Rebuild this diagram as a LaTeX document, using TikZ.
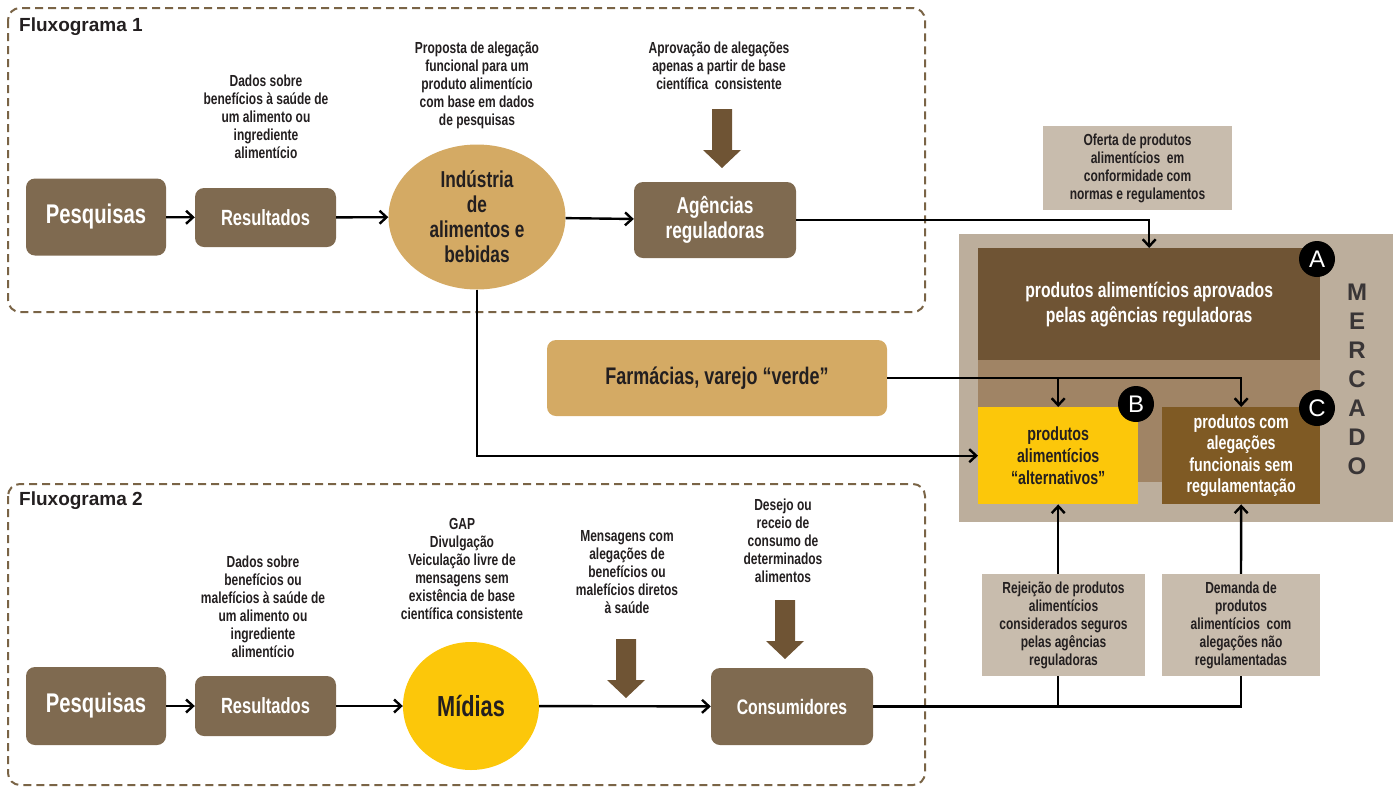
\documentclass[tikz,border=0pt]{standalone}
\usepackage{fontspec}
\setmainfont[FakeStretch=0.75]{Liberation Sans}
\newfontfamily\largafont{Liberation Sans}
\usepackage{tikz}
\usetikzlibrary{arrows.meta}
\usetikzlibrary{shapes.geometric}
\usetikzlibrary{calc}

\definecolor{marrom caixa}{RGB}{127,106,80}
\definecolor{marrom escuro}{RGB}{111,84,52}
\definecolor{marrom c}{RGB}{127,90,36}
\definecolor{bege}{RGB}{212,170,100}
\definecolor{amarelo}{RGB}{252,199,10}
\definecolor{claro}{RGB}{200,188,173}
\definecolor{fundo merc}{RGB}{188,174,156}
\definecolor{meio merc}{RGB}{160,132,101}
\definecolor{tracejado}{RGB}{122,100,70}
\definecolor{escuro}{RGB}{35,31,32}

\tikzset{node style box/.style={rectangle, rounded corners=9pt, fill=marrom caixa, text=white, align=center, inner sep=0pt}}
\tikzset{node style txt/.style={align=center, text=escuro, inner sep=0pt, font=\bfseries\fontsize{16}{18}\selectfont}}
\tikzset{node style ret/.style={rectangle, align=center, inner sep=0pt, text=escuro, font=\bfseries\fontsize{16}{18}\selectfont}}
\tikzset{node style letra/.style={circle, fill=black, text=white, minimum size=36pt, inner sep=0pt, font=\largafont\fontsize{24}{24}\selectfont}}
\tikzset{borda/.style={draw=tracejado, line width=2pt, dash pattern=on 8pt off 5pt, rounded corners=12pt}}
\tikzset{seta/.style={draw=black, line width=2.4pt, -{Straight Barb[length=7pt,width=13pt]}}}
\tikzset{linha/.style={draw=black, line width=2.4pt}}

% seta grossa marrom, #1 = ponta
\newcommand{\setagrossa}[1]{\fill[marrom escuro] (#1) ++(-10,-59) -- ++(20,0) -- ++(0,41) -- ++(9,0) -- ++(-19,18) -- ++(-19,-18) -- ++(9,0) -- cycle;}

\begin{document}
\begin{tikzpicture}[x=1pt,y=-1pt]
   \useasboundingbox (0,0) rectangle (1393,788);

   % [[[ Fluxograma 1
   \draw[borda] (8,8) rectangle (925,312);
   \node[anchor=west, inner sep=0pt, text=escuro, font=\largafont\bfseries\fontsize{19}{22}\selectfont] (fx1) at (19,27) {Fluxograma 1};

   \node[node style box, minimum width=140pt, minimum height=77pt, font=\bfseries\fontsize{27}{30}\selectfont] (pesq1) at (96,217) {Pesquisas};
   \node[node style box, minimum width=141pt, minimum height=59pt, font=\bfseries\fontsize{22}{24}\selectfont] (res1) at (265.5,217.5) {Resultados};
   \node[node style txt] (dados1) at (266,117) {Dados sobre\\benefícios à saúde de\\um alimento ou\\ingrediente\\alimentício};

   \node[ellipse, fill=bege, minimum width=177pt, minimum height=145pt, inner sep=0pt, align=center, text=escuro, font=\bfseries\fontsize{23}{25}\selectfont] (ind) at (477,217) {Indústria\\de\\alimentos e\\bebidas};
   \node[node style txt] (prop) at (477,85) {Proposta de alegação\\funcional para um\\produto alimentício\\com base em dados\\de pesquisas};

   \node[node style box, minimum width=162pt, minimum height=76pt, font=\bfseries\fontsize{23}{25}\selectfont] (ag) at (715,220) {Agências\\reguladoras};
   \node[node style txt] (aprov) at (719,66) {Aprovação de alegações\\apenas a partir de base\\científica\ \ consistente};
   \coordinate (sg1) at (722,168);
   \setagrossa{sg1}

   \draw[seta] (pesq1) -- (res1);
   \draw[seta] (res1) -- (ind);
   \draw[seta] (ind) -- (ag);
   % ]]]

   % [[[ Mercado
   \node[node style ret, fill=claro, minimum width=189pt, minimum height=84pt] (oferta) at (1137.5,168) {Oferta de produtos\\alimentícios\ \ em\\conformidade com\\normas e regulamentos};
   \node[rectangle, fill=fundo merc, minimum width=434pt, minimum height=288pt, anchor=north west] (merc) at (959,234) {};
   \node[rectangle, fill=meio merc, minimum width=342pt, minimum height=122pt, anchor=north west] (meio) at (978,360) {};
   \node[rectangle, fill=marrom escuro, minimum width=342pt, minimum height=112pt, anchor=north west, align=center, text=white, font=\bfseries\fontsize{21}{25}\selectfont] (A) at (978,248) {produtos alimentícios aprovados\\pelas agências reguladoras};
   \node[rectangle, fill=amarelo, minimum width=160pt, minimum height=97pt, anchor=north west, align=center, text=escuro, font=\bfseries\fontsize{19}{22}\selectfont] (B) at (978,407) {produtos\\alimentícios\\“alternativos”};
   \node[rectangle, fill=marrom c, minimum width=158pt, minimum height=97pt, anchor=north west, align=center, text=white, font=\bfseries\fontsize{19}{21.5}\selectfont] (C) at (1162,407) {produtos com\\alegações\\funcionais sem\\regulamentação};
   \node[node style letra] (la) at (1317,259) {A};
   \node[node style letra] (lb) at (1136,404) {B};
   \node[node style letra] (lc) at (1317,408) {C};
   \node[align=center, inner sep=0pt, text=escuro!90, font=\largafont\bfseries\fontsize{24}{29}\selectfont] (mtxt) at (1357,379) {M\\E\\R\\C\\A\\D\\O};

   \node[node style box, fill=bege, text=escuro, minimum width=340pt, minimum height=76pt, font=\bfseries\fontsize{24}{26}\selectfont] (farm) at (717,378) {Farmácias, varejo “verde”};

   \draw[seta] (ag.east) -| (A.north);
   \draw[seta] (ind.south) |- (B.west);
   \draw[seta] (farm.east) -| (C.north);
   \coordinate (fb) at (B.north |- farm.east);
   \draw[seta] (fb) -- (B.north);
   % ]]]

   % [[[ Fluxograma 2
   \draw[borda] (8,484) rectangle (925,785);
   \node[anchor=west, inner sep=0pt, text=escuro, font=\largafont\bfseries\fontsize{19}{22}\selectfont] (fx2) at (19,501) {Fluxograma 2};

   \node[node style box, minimum width=140pt, minimum height=78pt, font=\bfseries\fontsize{27}{30}\selectfont] (pesq2) at (96,706) {Pesquisas};
   \node[node style box, minimum width=141pt, minimum height=60pt, font=\bfseries\fontsize{22}{24}\selectfont] (res2) at (265.5,706) {Resultados};
   \node[node style txt] (dados2) at (263,606.5) {Dados sobre\\benefícios ou\\malefícios à saúde de\\um alimento ou\\ingrediente\\alimentício};

   \node[ellipse, fill=amarelo, minimum width=136pt, minimum height=128pt, inner sep=0pt, text=escuro, font=\bfseries\fontsize{29}{30}\selectfont] (mid) at (471,706) {Mídias};
   \node[node style txt] (gap) at (462,568.5) {GAP\\Divulgação\\Veiculação livre de\\mensagens sem\\existência de base\\científica consistente};

   \node[node style txt] (msg) at (627,572) {Mensagens com\\alegações de\\benefícios ou\\malefícios diretos\\à saúde};
   \coordinate (sg2) at (626,698);
   \setagrossa{sg2}

   \node[node style box, minimum width=162pt, minimum height=77pt, font=\bfseries\fontsize{21}{24}\selectfont] (cons) at (792,706.5) {Consumidores};
   \node[node style txt] (desejo) at (783,541) {Desejo ou\\receio de\\consumo de\\determinados\\alimentos};
   \coordinate (sg3) at (785,659);
   \setagrossa{sg3}

   \draw[seta] (pesq2) -- (res2);
   \draw[seta] (res2) -- (mid);
   \draw[seta] (mid) -- (cons);

   \node[node style ret, fill=claro, minimum width=163pt, minimum height=102pt] (rej) at (1063.5,625) {Rejeição de produtos\\alimentícios\\considerados seguros\\pelas agências\\reguladoras};
   \node[node style ret, fill=claro, minimum width=158pt, minimum height=102pt] (dem) at (1241,625) {Demanda de\\produtos\\alimentícios\ \ com\\alegações não\\regulamentadas};

   \coordinate (rb) at (B.south |- cons.east);
   \draw[linha] (cons.east) -| (dem.south);
   \draw[linha] (rb) -- (B.south |- rej.south);
   \draw[seta] (B.south |- rej.north) -- (B.south);
   \draw[seta] (dem.north) -- (C.south);
   % ]]]
\end{tikzpicture}
\end{document}
